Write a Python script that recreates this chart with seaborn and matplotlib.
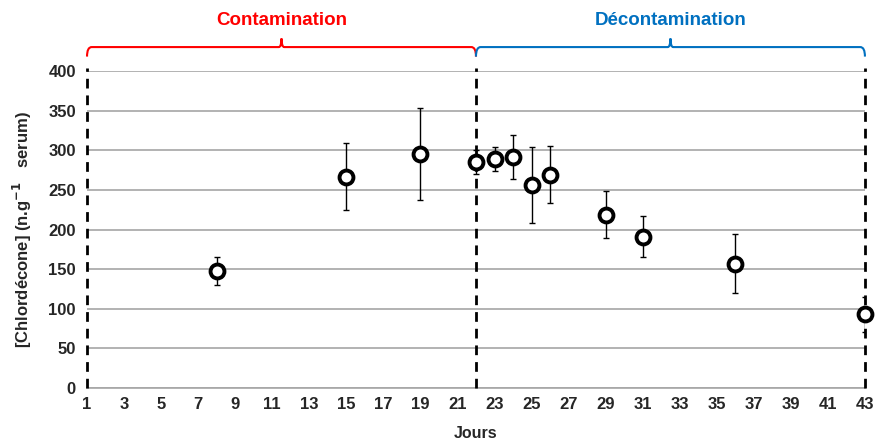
import numpy as np
import pandas as pd
import seaborn as sns
import matplotlib.pyplot as plt
from matplotlib.path import Path
from matplotlib.patches import PathPatch
import matplotlib.transforms as mtransforms

# values
jours = [8, 15, 19, 22, 23, 24, 25, 26, 29, 31, 36, 43]
chlordecone = [148, 267, 296, 285, 289, 292, 256, 269, 219, 191, 157, 93]
ecart_type = [18, 42, 58, 15, 15, 28, 48, 36, 30, 26, 37, 22]
phases = ["Contamination", "Décontamination"]
phase_bornes = [(1, 22), (22, 43)]
phase_couleurs = ["#ff0000", "#0070c0"]

sns.set_style("white")
plt.rcParams["font.family"] = ["Liberation Sans", "DejaVu Sans"]
plt.rcParams["font.weight"] = "bold"

df = pd.DataFrame({"Jours": jours, "Chlordecone": chlordecone, "sd": ecart_type})

fig = plt.figure(figsize=(8.79, 4.42), dpi=100)
ax = fig.add_axes([0.099, 0.122, 0.885, 0.717])

for y in range(0, 401, 50):
    ax.axhline(y, color="#a6a6a6", lw=1.2, zorder=0)

ax.errorbar(df["Jours"], df["Chlordecone"], yerr=df["sd"], fmt="none",
            ecolor="black", elinewidth=1, capsize=2, capthick=1, zorder=2)
sns.scatterplot(data=df, x="Jours", y="Chlordecone", ax=ax, marker="o", s=100,
                facecolor="white", edgecolor="black", linewidth=2.8,
                zorder=4, clip_on=False)

for xb in [1, 22, 43]:
    ax.plot([xb, xb], [0, 404], color="black", lw=2, ls=(0, (3.5, 2.5)),
            zorder=3, clip_on=False)

ax.set_xlim(1, 43)
ax.set_ylim(0, 400)
ax.set_xticks(range(1, 44, 2))
ax.set_yticks(range(0, 401, 50))
ax.tick_params(axis="both", labelsize=12, length=3, color="#808080")
ax.tick_params(axis="y", length=0, pad=8)
for lab in ax.get_xticklabels() + ax.get_yticklabels():
    lab.set_fontweight("bold")
for s in ["top", "right", "left"]:
    ax.spines[s].set_visible(False)
ax.spines["bottom"].set_color("#a6a6a6")
ax.spines["bottom"].set_linewidth(1.2)

ax.set_xlabel("Jours", fontsize=11.5, fontweight="bold", labelpad=10)
ax.set_ylabel("[Chlordécone] (n.g$^{\\mathbf{-1}}$   serum)", fontsize=12,
              fontweight="bold", labelpad=10)

# accolades au-dessus des deux phases
trans = mtransforms.blended_transform_factory(ax.transData, ax.transAxes)
yb, ye, ym = 1.076, 1.046, 1.103
r = 0.25
for nom, (x0, x1), c in zip(phases, phase_bornes, phase_couleurs):
    xm = (x0 + x1) / 2
    verts = [(x0, ye), (x0, yb), (x0 + r, yb),
             (xm - 0.15, yb), (xm, yb), (xm, ym), (xm, yb), (xm + 0.15, yb),
             (x1 - r, yb), (x1, yb), (x1, ye)]
    codes = [Path.MOVETO, Path.CURVE3, Path.CURVE3,
             Path.LINETO, Path.CURVE3, Path.CURVE3, Path.CURVE3, Path.CURVE3,
             Path.LINETO, Path.CURVE3, Path.CURVE3]
    ax.add_patch(PathPatch(Path(verts, codes), transform=trans, fill=False,
                           edgecolor=c, lw=1.5, clip_on=False))
    ax.text(xm, 1.16, nom, transform=trans, ha="center", va="center",
            color=c, fontsize=13.5, fontweight="bold")

fig.savefig("out.png", dpi=100)
